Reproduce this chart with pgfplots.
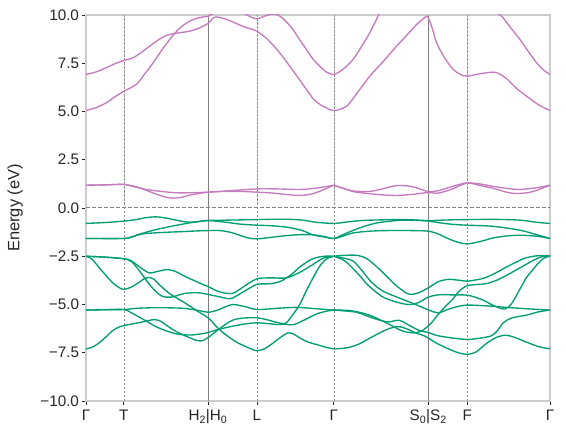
\documentclass[border=0pt]{standalone}
\usepackage{fontspec}
\setmainfont{Liberation Sans}
\usepackage{pgfplots}
\pgfplotsset{compat=1.18}
\definecolor{cbgreen}{HTML}{029E73}
\definecolor{cbpurple}{HTML}{C47CBF}
\definecolor{txt}{HTML}{262626}
\definecolor{spine}{HTML}{CCCCCC}
\begin{document}
\begin{tikzpicture}
\path[use as bounding box] (-86bp,-40bp) rectangle (480bp,401bp);
\begin{axis}[
 at={(0,0)}, anchor=south west,
 width=464bp, height=386bp, scale only axis,
 xmin=0, xmax=463.5, ymin=-10, ymax=10,
 axis line style={spine, line width=1.1bp},
 xtick={0,37.8,121.8,170.8,247.5,341.8,380.8,463.5},
 xticklabels={Γ,T,H\textsubscript{2}|H\textsubscript{0},L,Γ,S\textsubscript{0}|S\textsubscript{2},F,Γ},
 ytick={-10,-7.5,-5,-2.5,0,2.5,5,7.5,10},
 yticklabels={−10.0,−7.5,−5.0,−2.5,0.0,2.5,5.0,7.5,10.0},
 tick align=outside, tick pos=left,
 major tick length=3.5bp,
 every tick/.style={txt, line width=0.8bp},
 tick label style={font=\fontsize{15.3}{17}\selectfont, text=txt},
 xticklabel style={yshift=-1.5bp},
 ylabel={Energy (eV)},
 ylabel style={font=\fontsize{16.5}{19}\selectfont, text=txt, at={(axis description cs:-0.153,0.5)}, anchor=center},
 every axis plot/.append style={line width=1.35bp, smooth, no markers},
]
% high-symmetry lines
\draw[black!45, line width=0.5bp, dash pattern=on 2.5bp off 1.5bp] (axis cs:37.8,-10) -- (axis cs:37.8,10);
\draw[black!45, line width=0.5bp, dash pattern=on 2.5bp off 1.5bp] (axis cs:170.8,-10) -- (axis cs:170.8,10);
\draw[black!45, line width=0.5bp, dash pattern=on 2.5bp off 1.5bp] (axis cs:247.5,-10) -- (axis cs:247.5,10);
\draw[black!45, line width=0.5bp, dash pattern=on 2.5bp off 1.5bp] (axis cs:380.8,-10) -- (axis cs:380.8,10);
\draw[black!50, line width=0.8bp] (axis cs:121.8,-10) -- (axis cs:121.8,10);
\draw[black!50, line width=0.8bp] (axis cs:341.8,-10) -- (axis cs:341.8,10);
\draw[black!50, line width=1bp, dash pattern=on 4bp off 2bp] (axis cs:0,0) -- (axis cs:463.5,0);

% ---------- conduction bands (purple) ----------
\addplot[cbpurple] coordinates {(0,5.05) (10,5.2) (20.2,5.45) (30,5.8) (37.8,6.05) (50.2,6.4) (58,6.9) (67,7.52) (78,8.35) (88.5,9.04) (96,9.42) (103.5,9.68) (110,9.82) (116.8,9.9) (121.8,9.93) (130,10.15) (140,10.4) (150,10.3) (161.8,9.97) (170.2,9.8) (180,9.97) (187,10.05) (193.5,9.95) (200,9.65) (206.8,9.25) (213,8.75) (220.2,8.21) (227,7.7) (233.5,7.35) (240,7.05) (247.5,6.92) (257,7.2) (266.8,7.7) (275,8.35) (283.5,9.08) (291.8,9.95) (300,10.8)};
\addplot[cbpurple] coordinates {(0,6.92) (10,7.05) (20,7.26) (30,7.5) (37.8,7.64) (46.8,7.78) (55,8.05) (63.5,8.38) (72,8.7) (80.2,8.94) (88.5,9.04) (96,9.1) (103.5,9.16) (112,9.3) (121.8,9.56) (126,9.8) (130,9.9) (140,9.78) (150.2,9.56) (160,9.35) (170.8,9.16) (182,8.7) (193.5,8.04) (207,7.1) (220.2,6.14) (228,5.6) (236.8,5.27) (247.5,5.05) (260.2,5.27) (270,5.9) (283.5,6.83) (297,7.6) (310.2,8.38) (323,9.1) (332,9.6) (336.8,9.8) (339.5,9.92) (342,9.85) (346,9.3) (350.2,8.56) (358,7.8) (366.8,7.18) (374,6.92) (380.8,6.83) (393,6.95) (406.8,7.04) (413,6.95) (420.2,6.7) (430,6.2) (440.2,5.79) (452,5.35) (463.5,5.05)};
\addplot[cbpurple] coordinates {(400,10.6) (408,10.2) (415.2,9.94) (424,9.35) (433.5,8.73) (442,8.1) (450.2,7.52) (457,7.15) (463.5,6.92)};
\addplot[cbpurple] coordinates {(0,1.18) (20,1.2) (37.8,1.22) (50,1.1) (60,0.92) (70,0.72) (80,0.56) (86.8,0.51) (95,0.55) (105,0.68) (121.8,0.82) (140,0.86) (155,0.86) (170.8,0.82) (185,0.78) (200,0.70) (213.5,0.65) (225,0.72) (235,0.9) (247.5,1.18)};
\addplot[cbpurple] coordinates {(0,1.18) (20,1.2) (37.8,1.22) (50,1.08) (60,0.96) (75,0.86) (90,0.79) (105,0.79) (121.8,0.82) (145,0.9) (170.8,0.99) (190,0.99) (213.5,0.96) (230,1.03) (247.5,1.18)};
\addplot[cbpurple] coordinates {(247.5,1.18) (257,1.02) (267,0.85) (283.5,0.74) (297,0.68) (310,0.65) (325,0.7) (341.8,0.80) (350,0.76) (358,0.85) (366.8,1.0) (375,1.2) (380.8,1.30) (393,1.25) (406.8,1.12) (420,1.02) (433.5,0.96) (450,1.05) (463.5,1.18)};
\addplot[cbpurple] coordinates {(247.5,1.18) (257,1.02) (267,0.88) (283.5,0.86) (297,1.0) (310,1.16) (323.5,1.13) (333,1.0) (341.8,0.85) (352,0.9) (365,1.1) (380.8,1.30) (395,1.15) (406.8,1.02) (420,0.82) (430,0.75) (442,0.8) (452,0.95) (463.5,1.18)};

% ---------- valence bands (green) ----------
\addplot[cbgreen] coordinates {(0,-0.80) (20,-0.75) (37.8,-0.68) (50,-0.6) (60,-0.5) (70.2,-0.46) (80,-0.52) (90,-0.63) (100.2,-0.72) (110,-0.72) (121.8,-0.65) (140,-0.63) (170.8,-0.60) (196,-0.58) (215,-0.62) (230,-0.74) (247.5,-0.80) (258,-0.74) (270,-0.67) (283.5,-0.63) (316.8,-0.60) (341.8,-0.65) (360,-0.62) (380.8,-0.60) (410,-0.59) (433.5,-0.63) (450,-0.74) (463.5,-0.80)};
\addplot[cbgreen] coordinates {(0,-1.58) (20,-1.58) (37.8,-1.58) (45,-1.52) (55,-1.33) (70.8,-1.11) (85,-0.95) (100.2,-0.8) (110,-0.72) (121.8,-0.65) (140,-0.74) (155,-0.84) (170.8,-0.89) (185,-0.92) (200.2,-0.99) (215,-1.15) (226.8,-1.39) (238,-1.5) (247.5,-1.58) (258,-1.35) (273.5,-1.03) (290,-0.78) (310.2,-0.65) (325,-0.63) (341.8,-0.68) (355,-0.78) (366.8,-0.85) (380.8,-0.89) (406.8,-0.95) (433.5,-1.15) (450,-1.38) (463.5,-1.58)};
\addplot[cbgreen] coordinates {(0,-1.58) (37.8,-1.58) (45,-1.5) (57,-1.34) (75,-1.27) (93.5,-1.23) (115,-1.18) (133.5,-1.17) (145,-1.27) (153.5,-1.41) (162,-1.55) (170.8,-1.60) (185,-1.52) (200.2,-1.43) (215,-1.38) (226.8,-1.39) (238,-1.48) (247.5,-1.58) (257,-1.45) (266.8,-1.29) (283.5,-1.2) (300.2,-1.17) (325,-1.17) (341.8,-1.20) (352,-1.35) (360.2,-1.55) (370,-1.75) (380.8,-1.86) (395,-1.72) (406.8,-1.55) (420,-1.45) (433.5,-1.41) (450,-1.46) (463.5,-1.58)};
% left half lower group
\addplot[cbgreen] coordinates {(0,-2.50) (20,-2.55) (37.8,-2.63) (44.8,-2.72) (54.8,-3.10) (63.2,-3.36) (72,-3.28) (81.5,-3.19) (90,-3.3) (98.2,-3.53) (111.5,-3.84) (122.2,-4.08) (131.5,-4.31) (141.5,-4.43) (148.2,-4.39) (158.2,-4.05) (170.8,-3.67) (185,-3.62) (200,-3.62) (213,-3.35) (226,-2.95) (237,-2.6) (247.5,-2.5)};
\addplot[cbgreen] coordinates {(0,-2.50) (20,-2.55) (37.8,-2.63) (46,-2.8) (54.8,-3.36) (64.8,-4.05) (74.8,-4.54) (84.8,-4.62) (98.2,-4.43) (111.5,-4.39) (122.2,-4.48) (135,-4.62) (145,-4.69) (158.2,-4.31) (170.8,-3.96) (185,-3.92) (195,-3.78) (205,-3.45) (215,-3.0) (227,-2.62) (238,-2.5) (247.5,-2.5)};
\addplot[cbgreen] coordinates {(0,-2.5) (6,-2.65) (13.3,-3.10) (20,-3.5) (26.7,-3.88) (33,-4.12) (37.8,-4.22) (45,-4.1) (53,-3.85) (58,-3.67) (63,-3.60) (68,-3.7) (74.8,-4.05) (84.8,-4.48) (98.2,-4.9) (111.5,-5.35) (122.2,-5.70) (131.5,-6.21) (141.5,-6.64) (151.5,-6.98) (164,-7.28) (170.8,-7.40) (178,-7.3) (185,-7.07) (193,-6.75) (201.8,-6.47) (208,-6.55) (213.5,-6.73) (222,-6.95) (230.2,-7.07) (240,-7.22) (247.5,-7.30)};
\addplot[cbgreen] coordinates {(0,-5.29) (20,-5.27) (37.8,-5.26) (50,-5.2) (65,-5.17) (80,-5.17) (98,-5.2) (111.5,-5.3) (122.2,-5.40) (131.5,-5.29) (140,-5.1) (147,-5.0) (158,-5.1) (170.8,-5.26) (190,-5.2) (210,-5.15) (230,-5.22) (247.5,-5.29)};
\addplot[cbgreen] coordinates {(0,-5.29) (20,-5.27) (37.8,-5.26) (45,-5.42) (52,-5.62) (60.2,-5.86) (68,-6.1) (76.8,-6.30) (85,-6.45) (93.5,-6.55) (105,-6.58) (115,-6.52) (122.2,-6.45) (131.5,-6.30) (146.8,-6.12) (160,-6.0) (170.8,-5.95) (180,-5.98) (193,-6.04) (200,-5.95) (207,-5.5) (213.5,-5.0) (220,-4.3) (226,-3.7) (233,-3.05) (240,-2.65) (247.5,-2.5)};
\addplot[cbgreen] coordinates {(0,-7.30) (6,-7.22) (13.3,-6.98) (20,-6.68) (26.7,-6.35) (33,-6.17) (37.8,-6.09) (45,-6.02) (55,-5.92) (68.2,-5.78) (75,-5.88) (81.5,-6.12) (90,-6.4) (98.2,-6.60) (109.8,-6.85) (116,-6.88) (122.2,-6.70) (131.5,-6.33) (140,-6.0) (148.2,-5.78) (158,-5.7) (170.8,-5.69) (180,-5.78) (190,-5.92) (200,-6.03) (207,-6.05) (215,-5.88) (230,-5.5) (240,-5.35) (247.5,-5.29)};
% right half lower group
\addplot[cbgreen] coordinates {(247.5,-2.5) (258,-2.45) (271.8,-2.46) (281.8,-2.67) (295.2,-3.27) (308.5,-3.96) (321.8,-4.45) (331.8,-4.40) (341.8,-4.14) (351.8,-3.82) (361.8,-3.70) (372,-3.74) (381.2,-3.79) (390,-3.72) (398.5,-3.62) (408,-3.4) (418.5,-3.10) (428,-2.85) (438.5,-2.6) (450,-2.48) (463.5,-2.48)};
\addplot[cbgreen] coordinates {(247.5,-2.5) (258,-2.72) (267,-3.15) (275,-3.6) (281.8,-4.0) (295.2,-4.57) (308.5,-4.85) (321.8,-5.0) (331.8,-4.91) (341.8,-4.62) (352,-4.5) (365,-4.5) (381.2,-4.52) (395.2,-4.74) (405,-5.0) (415.2,-5.22) (420,-5.2) (425.2,-4.95) (433,-4.25) (440,-3.6) (445.2,-3.27) (452,-2.85) (458,-2.58) (463.5,-2.5)};
\addplot[cbgreen] coordinates {(247.5,-2.5) (258,-2.6) (266.8,-2.75) (275,-3.2) (283.5,-3.75) (292,-4.15) (300.2,-4.4) (316.8,-4.74) (333.5,-5.09) (341.8,-5.28) (352,-5.43) (361.8,-5.25) (371.8,-5.1) (381.2,-5.03) (400,-5.07) (420,-5.15) (440,-5.22) (463.5,-5.29)};
\addplot[cbgreen] coordinates {(247.5,-5.29) (265,-5.32) (283,-5.55) (300,-5.95) (315,-6.35) (327,-6.47) (336,-6.35) (345,-5.95) (352,-5.5) (360,-5.05) (366.8,-4.7) (372,-4.35) (381.2,-4.02) (398.5,-3.93) (410,-3.75) (421.8,-3.44) (433.5,-3.1) (448.5,-2.67) (456,-2.52) (463.5,-2.5)};
\addplot[cbgreen] coordinates {(247.5,-5.29) (270,-5.4) (283.5,-5.65) (296,-5.85) (303,-5.90) (313,-5.82) (323.5,-6.1) (333,-6.35) (341.8,-6.45) (350,-6.6) (358.5,-6.68) (370,-6.76) (381.2,-6.81) (393,-6.75) (405,-6.62) (411,-6.35) (416.8,-5.95) (425,-5.7) (440,-5.55) (452,-5.38) (463.5,-5.29)};
\addplot[cbgreen] coordinates {(247.5,-7.30) (260,-7.25) (271.8,-7.07) (285,-6.7) (298.5,-6.34) (306,-6.2) (313,-6.15) (320,-6.25) (328,-6.45) (338.5,-6.64) (350,-7.0) (362,-7.3) (372,-7.5) (381.2,-7.58) (390,-7.45) (398,-7.1) (408,-6.75) (418.5,-6.59) (428,-6.7) (440,-6.95) (452,-7.18) (463.5,-7.30)};
\end{axis}
\end{tikzpicture}
\end{document}
